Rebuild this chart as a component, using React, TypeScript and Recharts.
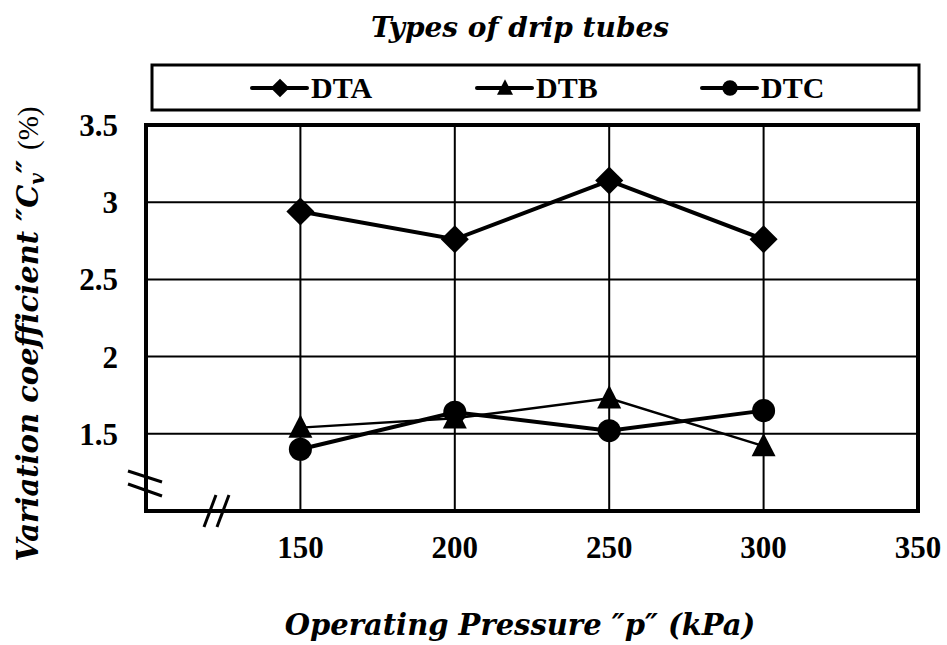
import React from "react";
import {
  CartesianGrid,
  Label,
  Legend,
  Line,
  LineChart,
  ReferenceArea,
  XAxis,
  YAxis,
} from "recharts";

const pressures = [150, 200, 250, 300];
const dtaValues = [2.94, 2.76, 3.14, 2.76];
const dtbValues = [1.54, 1.6, 1.73, 1.42];
const dtcValues = [1.4, 1.64, 1.52, 1.65];

const xTicks = [150, 200, 250, 300, 350];
const yTicks = [1.5, 2, 2.5, 3, 3.5];

const seriesNames = { dta: "DTA", dtb: "DTB", dtc: "DTC" };

const chartRows = pressures.map((p, i) => ({
  p,
  dta: dtaValues[i],
  dtb: dtbValues[i],
  dtc: dtcValues[i],
}));

const TICK_FONT = "'Liberation Serif', 'Times New Roman', serif";
const TITLE_FONT = "'DejaVu Serif', serif";

type Marker = "diamond" | "triangle" | "circle";

const markerFor: Record<string, Marker> = {
  dta: "diamond",
  dtb: "triangle",
  dtc: "circle",
};

function markerShape(kind: Marker, cx: number, cy: number, s: number, key?: string) {
  if (kind === "diamond") {
    const r = s * 1.17;
    return (
      <path
        key={key}
        d={`M${cx},${cy - r}L${cx + r},${cy}L${cx},${cy + r}L${cx - r},${cy}Z`}
        fill="#000"
      />
    );
  }
  if (kind === "triangle") {
    return (
      <path
        key={key}
        d={`M${cx},${cy - s * 1.1}L${cx + s},${cy + s * 0.85}L${cx - s},${cy + s * 0.85}Z`}
        fill="#000"
      />
    );
  }
  return <circle key={key} cx={cx} cy={cy} r={s * 0.96} fill="#000" />;
}

function dotFor(kind: Marker, name: string) {
  return (props: any) => {
    const { cx, cy, index } = props;
    if (cx == null || cy == null) return <g key={`${name}-${index}`} />;
    return markerShape(kind, cx, cy, 12, `${name}-${index}`);
  };
}

function renderLegend(props: any) {
  const payload = props.payload ?? [];
  return (
    <svg width={947} height={120} style={{ display: "block" }}>
      <text
        x={520}
        y={37}
        textAnchor="middle"
        fontFamily={TITLE_FONT}
        fontStyle="italic"
        fontWeight="bold"
        fontSize={28}
        fill="#000"
      >
        Types of drip tubes
      </text>
      <rect x={152} y={65} width={767} height={45} fill="#fff" stroke="#000" strokeWidth={3} />
      {payload.map((entry: any, i: number) => {
        const x0 = 252 + i * 225;
        const kind = markerFor[entry.dataKey] ?? "circle";
        return (
          <g key={entry.value}>
            <line x1={x0} x2={x0 + 55} y1={88} y2={88} stroke="#000" strokeWidth={4} strokeLinecap="round" />
            {markerShape(kind, x0 + 28, 88, 8)}
            <text
              x={x0 + 59}
              y={98}
              fontFamily={TICK_FONT}
              fontWeight="bold"
              fontSize={30}
              fill="#000"
            >
              {entry.value}
            </text>
          </g>
        );
      })}
    </svg>
  );
}

function XTitle(props: any) {
  const { x, y, width } = props.viewBox;
  return (
    <g>
      <line x1={x + 58} y1={y + 16} x2={x + 70} y2={y - 16} stroke="#000" strokeWidth={3} />
      <line x1={x + 71} y1={y + 16} x2={x + 83} y2={y - 16} stroke="#000" strokeWidth={3} />
      <line x1={x - 18} y1={y - 40} x2={x + 16} y2={y - 29} stroke="#000" strokeWidth={3} />
      <line x1={x - 18} y1={y - 27} x2={x + 16} y2={y - 15} stroke="#000" strokeWidth={3} />
      <text
        x={x + width / 2 - 12}
        y={y + 124}
        textAnchor="middle"
        fontFamily={TITLE_FONT}
        fontStyle="italic"
        fontWeight="bold"
        fontSize={29}
        fill="#000"
      >
        Operating Pressure ″p″ (kPa)
      </text>
    </g>
  );
}

function YTitle(props: any) {
  const { y, height } = props.viewBox;
  const cx = 28;
  const cy = y + height / 2 + 16;
  return (
    <text
      transform={`translate(${cx + 10},${cy}) rotate(-90)`}
      textAnchor="middle"
      fontFamily={TITLE_FONT}
      fontStyle="italic"
      fontWeight="bold"
      fontSize={29}
      fill="#000"
    >
      Variation coefficient ″C
      <tspan fontSize={20} dy={6}>v</tspan>
      <tspan dy={-6}>″ </tspan>
      <tspan fontFamily={TICK_FONT} fontStyle="normal" fontWeight="normal">(%)</tspan>
    </text>
  );
}

export default function App() {
  const tickStyle = {
    fontFamily: TICK_FONT,
    fontWeight: "bold",
    fontSize: 31,
    fill: "#000",
  };
  return (
    <div style={{ position: "absolute", left: 0, top: 0, background: "#fff" }}>
      <LineChart
        width={947}
        height={645}
        data={chartRows}
        margin={{ top: 125, right: 29, bottom: 74, left: 26 }}
      >
        <CartesianGrid stroke="#000" strokeWidth={2} />
        <XAxis
          type="number"
          dataKey="p"
          domain={[100, 350]}
          ticks={xTicks}
          height={60}
          axisLine={false}
          tickLine={false}
          tickSize={0}
          tickMargin={25}
          tick={tickStyle}
        >
          <Label content={XTitle} />
        </XAxis>
        <YAxis
          type="number"
          domain={[1, 3.5]}
          ticks={yTicks}
          width={120}
          axisLine={false}
          tickLine={false}
          tickSize={0}
          tickMargin={28}
          tick={tickStyle}
          tickFormatter={(v: number) => String(v)}
        >
          <Label content={YTitle} />
        </YAxis>
        <ReferenceArea
          x1={100}
          x2={350}
          y1={1}
          y2={3.5}
          fill="none"
          stroke="#000"
          strokeWidth={4}
          ifOverflow="visible"
        />
        <Legend
          layout="horizontal"
          verticalAlign="middle"
          align="center"
          wrapperStyle={{ position: "absolute", left: 0, top: 0, width: 947, height: 120 }}
          content={renderLegend}
        />
        <Line
          type="linear"
          dataKey="dta"
          name={seriesNames.dta}
          stroke="#000"
          strokeWidth={4}
          dot={dotFor("diamond", "dta")}
          activeDot={false}
          isAnimationActive={false}
        />
        <Line
          type="linear"
          dataKey="dtb"
          name={seriesNames.dtb}
          stroke="#000"
          strokeWidth={2.5}
          dot={dotFor("triangle", "dtb")}
          activeDot={false}
          isAnimationActive={false}
        />
        <Line
          type="linear"
          dataKey="dtc"
          name={seriesNames.dtc}
          stroke="#000"
          strokeWidth={4}
          dot={dotFor("circle", "dtc")}
          activeDot={false}
          isAnimationActive={false}
        />
      </LineChart>
    </div>
  );
}
